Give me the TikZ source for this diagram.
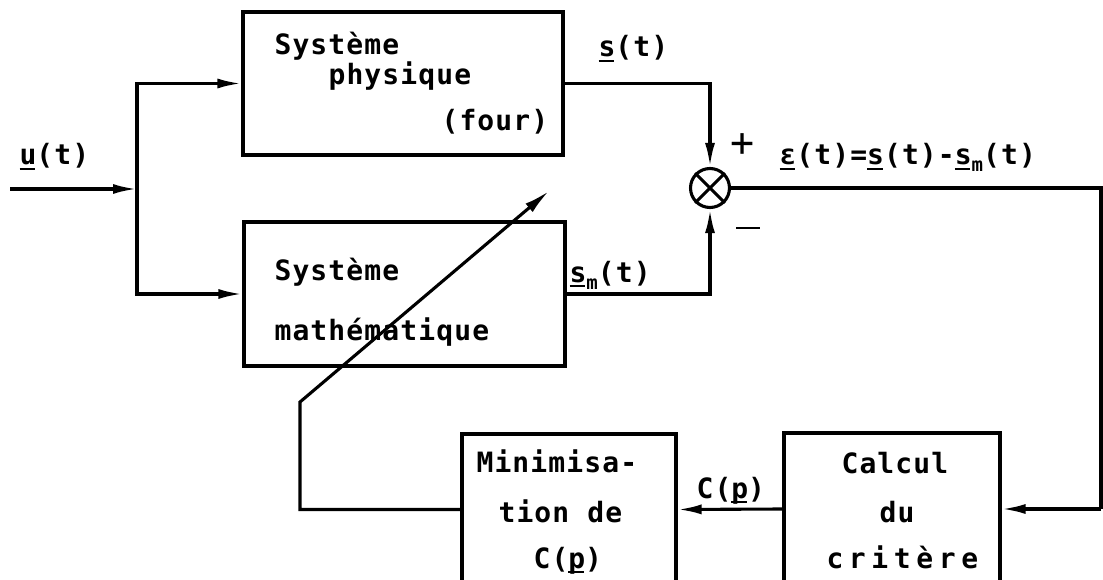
\documentclass[tikz,border=0pt]{standalone}
\usepackage{fontspec}
\setmainfont{DejaVu Sans Mono}[LetterSpace=4]
\usetikzlibrary{arrows.meta}
\newcommand\vu[1]{\setbox0\hbox{#1}\rlap{\rule[-5pt]{\dimexpr\wd0-1.5pt\relax}{2pt}}\box0}
\newcommand\subm{\raisebox{-7pt}{\fontsize{19}{19}\selectfont m}}
\begin{document}
\begin{tikzpicture}[x=1pt,y=-1pt,line width=3.1pt,
  every node/.style={font=\fontsize{28}{28}\selectfont\bfseries},
  txt/.style={anchor=base west,inner sep=0pt},
  blk/.style={draw,rectangle,inner sep=0pt},
  arr/.style={-{Latex[length=24pt,width=10pt]}},
  darr/.style={-{Latex[length=26pt,width=11pt]}}]
\useasboundingbox (0,0) rectangle (1103,580);
\fill[white] (0,0) rectangle (1103,580);
\clip (0,0) rectangle (1103,580);
% blocks
\node[blk,minimum width=320pt,minimum height=143pt] (phys) at (403,83.5) {};
\node[blk,minimum width=321pt,minimum height=144pt] (math) at (404.5,294) {};
\node[blk,minimum width=214pt,minimum height=151pt] (mini) at (569,509.5) {};
\node[blk,minimum width=216pt,minimum height=152pt] (calc) at (892,509) {};
\node[draw,circle,minimum size=39pt,inner sep=0pt] (sum) at (710,188) {};
\draw (sum.north east) -- (sum.south west) (sum.north west) -- (sum.south east);
% texts in blocks
\node[txt] (t1) at (273,55) {Système};
\node[txt] (t2) at (327,85) {physique};
\node[txt] (t3) at (440,131) {(four)};
\node[txt] (t4) at (273,280) {Système};
\node[txt] (t5) at (273,340) {mathématique};
\node[txt] (t6) at (475,472) {Minimisa-};
\node[txt] (t7) at (497,522) {tion de};
\node[txt] (t8) at (532,568) {C(\vu{p})};
\node[txt] (t9) at (840,473) {Calcul};
\node[txt] (t10) at (878,522) {du};
\node[txt] (t11) at (825,568) {\addfontfeature{LetterSpace=20}critère};
% labels
\node[txt] (lu) at (18,165) {\vu{u}(t)};
\node[txt] (ls) at (597,57) {\vu{s}(t)};
\node[txt] (lsm) at (568,282) {\vu{s}\subm(t)};
\node[txt] (le) at (778,165) {\vu{ε}(t)=\vu{s}(t)-\vu{s}\subm(t)};
\node[txt] (lc) at (695,498) {C(\vu{p})};
\node[inner sep=0pt,font=\fontsize{40}{40}\selectfont] (plus) at (743,145) {+};
\node[inner sep=0pt] (minus) at (748,228) {\rule{24pt}{2.6pt}};
% connectors
\coordinate (uin) at (10,189);
\coordinate (j) at (137,189);
\coordinate (rc) at (1101,509);
\coordinate (fb) at (300,402);
\coordinate (tip) at (549,191);
\draw[arr] (uin) -- (j);
\draw[arr] (j) |- (phys.west);
\draw[arr] (j) |- (math.west);
\draw[arr] (phys.east) -| (sum.north);
\draw[arr] (math.east) -| (sum.south);
\draw (sum.east) -| (rc);
\draw[arr] (rc) -- (calc.east);
\draw[arr] (calc.west) -- (mini.east);
\draw[darr] (mini.west) -| (fb) -- (tip);
\end{tikzpicture}
\end{document}
